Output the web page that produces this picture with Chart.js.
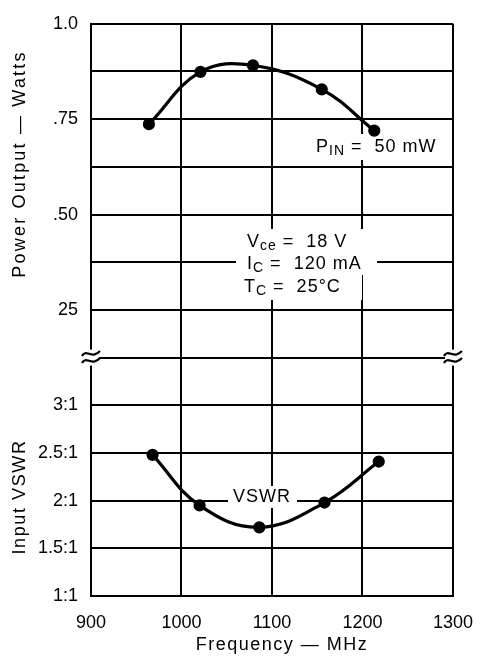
<!DOCTYPE html>
<html>
<head>
<meta charset="utf-8">
<script src="https://cdn.jsdelivr.net/npm/chart.js@4/dist/chart.umd.min.js"></script>
<style>
  html, body { margin: 0; padding: 0; background: #fff; }
  #chart { display: block; }
</style>
</head>
<body>
<canvas id="chart" width="489" height="662"></canvas>
<script>
// values
const freqPower = [964, 1021, 1079, 1155, 1213];
const powerOut = [0.737, 0.874, 0.891, 0.828, 0.72];
const freqVswr = [968, 1020, 1086, 1158, 1218];
const vswr = [2.48, 1.95, 1.72, 1.98, 2.41];

const xTicks = [900, 1000, 1100, 1200, 1300];
// one label per grid step, bottom to top (step 5 is the axis break)
const yTickLabels = ["1:1", "1.5:1", "2:1", "2.5:1", "3:1", "", "25", "", ".50", "", ".75", "", "1.0"];

const FONT = '"Liberation Sans", Arial, Helvetica, sans-serif';

// both panels share one axis measured in grid steps
const powerToStep = p => 6 + (p - 0.25) / 0.125;
const vswrToStep = v => (v - 1) / 0.5;

function drawRich(ctx, x, y, parts, size) {
  ctx.textAlign = "left";
  ctx.textBaseline = "middle";
  ctx.letterSpacing = "1px";
  let cx = x;
  parts.forEach(p => {
    const s = p.sub ? size - 4 : size;
    ctx.font = s + "px " + FONT;
    ctx.fillText(p.t, cx, p.sub ? y + 4 : y);
    cx += ctx.measureText(p.t).width;
  });
  ctx.letterSpacing = "0px";
}

function breakMark(ctx, x, y) {
  ctx.save();
  ctx.fillStyle = "#fff";
  ctx.fillRect(x - 8, y - 8, 16, 16);
  ctx.strokeStyle = "#000";
  ctx.lineWidth = 2.2;
  [-3.5, 3.5].forEach(d => {
    ctx.beginPath();
    ctx.moveTo(x - 9, y + d + 2);
    ctx.bezierCurveTo(x - 5, y + d - 6, x + 1, y + d + 6, x + 9, y + d - 3);
    ctx.stroke();
  });
  ctx.restore();
}

function vText(ctx, text, x, y, spacing) {
  ctx.save();
  ctx.letterSpacing = spacing;
  ctx.translate(x, y);
  ctx.rotate(-Math.PI / 2);
  ctx.fillText(text, 0, 0);
  ctx.restore();
}

const notes = {
  id: "notes",
  beforeDatasetsDraw(chart) {
    const ctx = chart.ctx;
    ctx.save();
    ctx.fillStyle = "#fff";
    // white knockouts behind the labels
    ctx.fillRect(312, 134, 140, 26);
    ctx.fillRect(240, 229, 125, 24);
    ctx.fillRect(236, 252, 141, 23);
    ctx.fillRect(240, 275, 122, 25);
    ctx.fillRect(228, 486, 69, 22);

    ctx.fillStyle = "#000";
    drawRich(ctx, 316, 147, [{ t: "P" }, { t: "IN", sub: true }, { t: " =  50 mW" }], 18);
    drawRich(ctx, 247, 242, [{ t: "V" }, { t: "ce", sub: true }, { t: " =  18 V" }], 18);
    drawRich(ctx, 247, 264, [{ t: "I" }, { t: "C", sub: true }, { t: " =  120 mA" }], 18);
    drawRich(ctx, 244, 287, [{ t: "T" }, { t: "C", sub: true }, { t: " =  25°C" }], 18);
    drawRich(ctx, 233, 497, [{ t: "VSWR" }], 18);
    ctx.restore();
  },
  afterDraw(chart) {
    const ctx = chart.ctx;
    const y = chart.scales.y;
    const area = chart.chartArea;
    const yb = y.getPixelForValue(5);
    breakMark(ctx, area.left, yb);
    breakMark(ctx, area.right, yb);

    ctx.save();
    ctx.fillStyle = "#000";
    ctx.font = "18px " + FONT;
    ctx.textAlign = "center";
    ctx.textBaseline = "middle";
    ctx.letterSpacing = "1.5px";
    ctx.fillText("Frequency — MHz", 282, 645);
    vText(ctx, "Power Output — Watts", 20, 164, "2.2px");
    vText(ctx, "Input VSWR", 20, 497, "1.6px");
    ctx.restore();
  }
};

const ctx = document.getElementById("chart").getContext("2d");
new Chart(ctx, {
  type: "line",
  data: {
    datasets: [
      {
        label: "Power Output",
        data: freqPower.map((f, i) => ({ x: f, y: powerToStep(powerOut[i]) })),
        borderColor: "#000",
        backgroundColor: "#000",
        borderWidth: 3.2,
        tension: 0.4,
        pointRadius: 4.5,
        fill: false
      },
      {
        label: "VSWR",
        data: freqVswr.map((f, i) => ({ x: f, y: vswrToStep(vswr[i]) })),
        borderColor: "#000",
        backgroundColor: "#000",
        borderWidth: 3.2,
        tension: 0.4,
        pointRadius: 4.5,
        fill: false
      }
    ]
  },
  options: {
    responsive: false,
    animation: false,
    layout: { padding: { top: 15, right: 24, bottom: 0, left: 0 } },
    plugins: {
      legend: { display: false },
      tooltip: { enabled: false }
    },
    scales: {
      x: {
        type: "linear",
        min: 900,
        max: 1300,
        afterBuildTicks: scale => { scale.ticks = xTicks.map(v => ({ value: v })); },
        afterFit: scale => { scale.height = 66; },
        grid: { color: "#000", lineWidth: 2, drawTicks: false },
        border: { color: "#000", width: 2 },
        ticks: {
          color: "#000",
          font: { family: FONT, size: 18 },
          padding: 16,
          maxRotation: 0,
          callback: v => String(v)
        }
      },
      y: {
        type: "linear",
        min: 0,
        max: 12,
        afterBuildTicks: scale => { scale.ticks = yTickLabels.map((_, i) => ({ value: i })); },
        afterFit: scale => { scale.width = 91; },
        grid: { color: "#000", lineWidth: 2, drawTicks: false },
        border: { color: "#000", width: 2 },
        ticks: {
          color: "#000",
          font: { family: FONT, size: 18 },
          padding: 13,
          autoSkip: false,
          callback: v => yTickLabels[v] || ""
        }
      }
    }
  },
  plugins: [notes]
});
</script>
</body>
</html>
